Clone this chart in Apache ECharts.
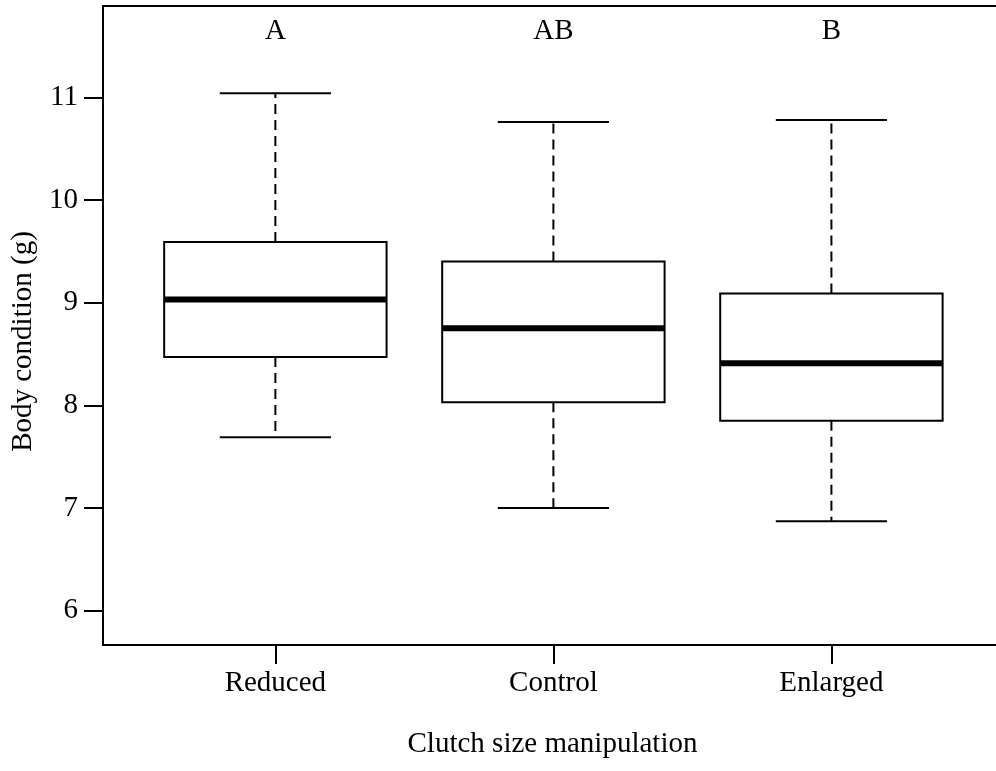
<!DOCTYPE html>
<html>
<head>
<meta charset="utf-8">
<script src="https://cdn.jsdelivr.net/npm/echarts@6/dist/echarts.min.js"></script>
<style>html,body{margin:0;padding:0;background:#fff;}#c{width:996px;height:771px;}</style>
</head>
<body>
<div id="c"></div>
<script>
const categories = ['Reduced', 'Control', 'Enlarged'];
const whiskerLow = [7.69, 7.00, 6.87];
const q1 = [8.47, 8.03, 7.85];
const median = [9.03, 8.75, 8.41];
const q3 = [9.59, 9.40, 9.09];
const whiskerHigh = [11.04, 10.76, 10.78];
const letters = ['A', 'AB', 'B'];
const yTicks = [6, 7, 8, 9, 10, 11];

const FONT = 'Liberation Serif';
const FS = 29;
const data = categories.map((c, i) => [i + 1, whiskerLow[i], q1[i], median[i], q3[i], whiskerHigh[i]]);

const chart = echarts.init(document.getElementById('c'), null, {renderer: 'canvas'});
const axisLine = {show: true, lineStyle: {color: '#000', width: 2}};
const X_MIN = 0.38, X_MAX = 3.592;
chart.setOption({
  animation: false,
  backgroundColor: '#fff',
  grid: {left: 103, top: 6, right: 0, bottom: 126, show: false},
  xAxis: [{
    type: 'value', min: X_MIN, max: X_MAX,
    splitLine: {show: false},
    axisLine: axisLine,
    axisTick: {show: true, length: 19, lineStyle: {color: '#000', width: 2}, customValues: [1, 2, 3]},
    axisLabel: {show: true, margin: 24, color: '#000', fontFamily: FONT, fontSize: FS,
      customValues: [1, 2, 3], formatter: v => categories[Math.round(v) - 1] || ''},
    name: 'Clutch size manipulation', nameLocation: 'middle', nameGap: 85,
    nameTextStyle: {color: '#000', fontFamily: FONT, fontSize: FS, padding: [0, 0, 0, 6]}
  }, {
    type: 'value', min: X_MIN, max: X_MAX, position: 'top',
    splitLine: {show: false}, axisLine: axisLine, axisTick: {show: false}, axisLabel: {show: false}
  }],
  yAxis: {
    type: 'value', min: 5.666, max: 11.889,
    splitLine: {show: false},
    axisLine: axisLine,
    axisTick: {show: true, length: 19, lineStyle: {color: '#000', width: 2}, customValues: yTicks},
    axisLabel: {show: true, margin: 25, color: '#000', fontFamily: FONT, fontSize: FS, customValues: yTicks},
    name: 'Body condition (g)', nameLocation: 'middle', nameGap: 62,
    nameTextStyle: {color: '#000', fontFamily: FONT, fontSize: FS, padding: [0, 32, 0, 0]}
  },
  series: [{
    type: 'custom',
    coordinateSystem: 'cartesian2d',
    xAxisIndex: 0,
    data: data,
    encode: {x: 0, y: [1, 2, 3, 4, 5]},
    renderItem: function (params, api) {
      const x = api.value(0);
      const lo = api.value(1), a = api.value(2), m = api.value(3), b = api.value(4), hi = api.value(5);
      const halfBox = 0.4, halfCap = 0.2;
      const pL = api.coord([x - halfBox, b]);
      const pR = api.coord([x + halfBox, a]);
      const c = api.coord([x, 9]);
      const yLo = api.coord([x, lo])[1], yA = api.coord([x, a])[1], yM = api.coord([x, m])[1];
      const yB = api.coord([x, b])[1], yHi = api.coord([x, hi])[1];
      const capL = api.coord([x - halfCap, lo])[0], capR = api.coord([x + halfCap, lo])[0];
      const ls = {stroke: '#000', lineWidth: 2, fill: null};
      const dash = {stroke: '#000', lineWidth: 2, lineDash: [10, 6], fill: null};
      const txt = api.coord([x, 11.64]);
      return {
        type: 'group',
        children: [
          {type: 'line', shape: {x1: c[0], y1: yB, x2: c[0], y2: yHi}, style: dash},
          {type: 'line', shape: {x1: c[0], y1: yA, x2: c[0], y2: yLo}, style: dash},
          {type: 'line', shape: {x1: capL, y1: yHi, x2: capR, y2: yHi}, style: ls},
          {type: 'line', shape: {x1: capL, y1: yLo, x2: capR, y2: yLo}, style: ls},
          {type: 'rect', shape: {x: pL[0], y: pL[1], width: pR[0] - pL[0], height: pR[1] - pL[1]},
            style: {stroke: '#000', lineWidth: 2, fill: '#fff'}},
          {type: 'line', shape: {x1: pL[0], y1: yM, x2: pR[0], y2: yM}, style: {stroke: '#000', lineWidth: 6}},
          {type: 'text', x: txt[0], y: txt[1],
            style: {text: letters[params.dataIndex], fontFamily: FONT, fontSize: FS, fill: '#000', align: 'center', verticalAlign: 'middle'}}
        ]
      };
    }
  }]
});
</script>
</body>
</html>
